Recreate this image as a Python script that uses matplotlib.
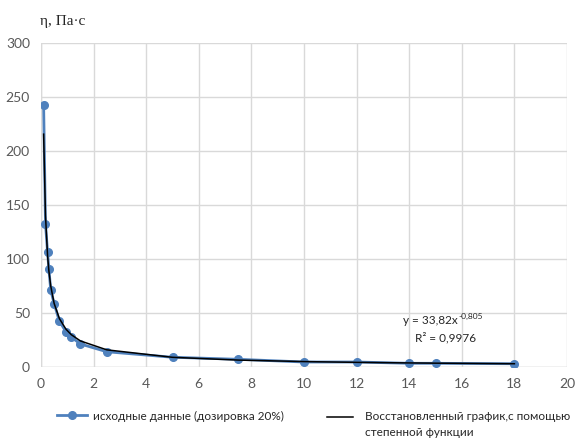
import numpy as np
import matplotlib
matplotlib.use("Agg")
import matplotlib.pyplot as plt
from matplotlib.lines import Line2D

# исходные данные (дозировка 20%)
shear_rate = [0.1, 0.17, 0.25, 0.3, 0.37, 0.5, 0.7, 0.95, 1.15, 1.5,
              2.5, 5, 7.5, 10, 12, 14, 15, 18]
viscosity = [243, 133, 106.5, 91, 71.5, 59, 42.6, 33, 28, 21.6,
             14.4, 9.3, 7.4, 4.9, 4.9, 3.7, 3.7, 3.3]

# степенная функция из подписи линии тренда
coef_a = 33.82
coef_b = -0.805

x_ticks = [0, 2, 4, 6, 8, 10, 12, 14, 16, 18, 20]
y_ticks = [0, 50, 100, 150, 200, 250, 300]

blue = "#4F81BD"
tick_color = "#595959"
text_color = "#262626"
plt.rcParams["font.family"] = ["Lato", "DejaVu Sans"]

W, H = 576, 438
fig = plt.figure(figsize=(W / 100, H / 100), dpi=100)
ax = fig.add_axes([41 / W, 1 - 367.3 / H, 526 / W, 324 / H])

x = np.array(shear_rate)
fit_y = coef_a * x ** coef_b

ax.plot(x, viscosity, color=blue, lw=2.0, marker="o", ms=5.5, zorder=3)
ax.plot(x, fit_y, color="black", lw=1.1, zorder=4)

ax.set_xlim(0, 20)
ax.set_ylim(0, 300)
ax.set_xticks(x_ticks)
ax.set_yticks(y_ticks)
ax.grid(True, color="#D9D9D9", lw=1)
ax.set_axisbelow(True)
for s in ax.spines.values():
    s.set_visible(False)
ax.axvline(0, color="#D9D9D9", lw=1, zorder=1)
ax.axhline(0, color="#D9D9D9", lw=1, zorder=1)
ax.tick_params(length=0, colors=tick_color, labelsize=10, pad=8)

# подпись линии тренда
fig.text(458 / W, 1 - 321 / H, "y = 33,82x", ha="right", va="center",
         fontsize=8.5, color=text_color)
fig.text(458.5 / W, 1 - 316 / H, "-0,805", ha="left", va="center",
         fontsize=6, color=text_color)
fig.text(446 / W, 1 - 338 / H, "R² = 0,9976", ha="center", va="center",
         fontsize=8.5, color=text_color)

fig.text(40 / W, 1 - 22 / H, "η, Па·с", family="Liberation Serif",
         fontsize=11, color=text_color, ha="left", va="center")

# легенда
h1 = Line2D([], [], color=blue, lw=2.0, marker="o", ms=5.5)
fig.legend([h1], ["исходные данные (дозировка 20%)"],
           loc="center left", bbox_to_anchor=(0.08, 1 - 416 / H),
           frameon=False, fontsize=8.5, handlelength=2.6,
           handletextpad=0.5, labelcolor=text_color)
fig.add_artist(Line2D([327 / W, 353 / W], [1 - 417 / H, 1 - 417 / H],
                      color="black", lw=1.1))
fig.text(365 / W, 1 - 417 / H, "Восстановленный график,с помощью",
         fontsize=8.5, color=text_color, va="center")
fig.text(365 / W, 1 - 433 / H, "степенной функции",
         fontsize=8.5, color=text_color, va="center")

fig.savefig("out.png", dpi=100)
